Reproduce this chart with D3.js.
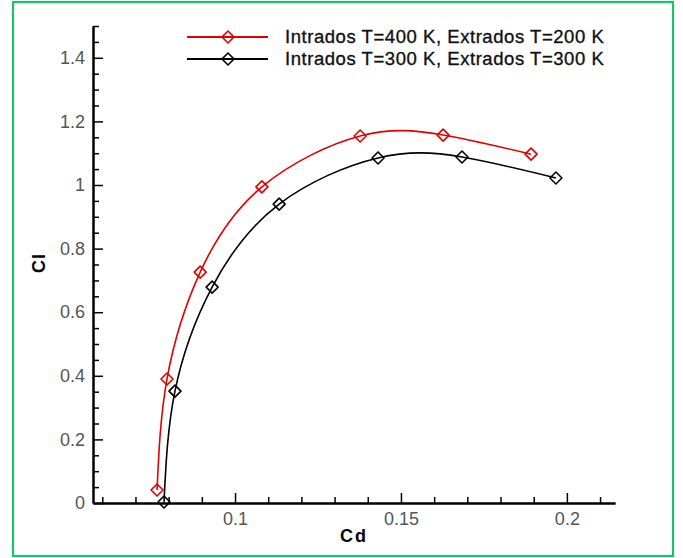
<!DOCTYPE html>
<html>
<head>
<meta charset="utf-8">
<script src="https://cdn.jsdelivr.net/npm/d3@7"></script>
<style>
  html, body { margin: 0; padding: 0; background: #fff; }
  svg { display: block; }
</style>
</head>
<body>
<svg id="chart" width="683" height="558"></svg>
<script>
// Polar curves Cl vs Cd for two wall-temperature configurations
const seriesNames = ["Intrados T=400 K, Extrados T=200 K", "Intrados T=300 K, Extrados T=300 K"];
const seriesColors = ["#e00000", "#000000"];

const cdHot = [0.0765, 0.0795, 0.0895, 0.1081, 0.1377, 0.1627, 0.1892];
const clHot = [0.041, 0.390, 0.726, 0.994, 1.154, 1.157, 1.097];

const cdRef = [0.0786, 0.0819, 0.0931, 0.1133, 0.1431, 0.1684, 0.1967];
const clRef = [0.003, 0.352, 0.679, 0.940, 1.085, 1.088, 1.022];

const xTicks = [0.1, 0.15, 0.2];
const yTicks = [0, 0.2, 0.4, 0.6, 0.8, 1, 1.2, 1.4];

const series = [
  { name: seriesNames[0], color: seriesColors[0], pts: cdHot.map((d, i) => [d, clHot[i]]) },
  { name: seriesNames[1], color: seriesColors[1], pts: cdRef.map((d, i) => [d, clRef[i]]) }
];

const FONT = "Liberation Sans, Arial, sans-serif";
const svg = d3.select("#chart");

// frame
svg.append("rect").attr("x", 13).attr("y", 2).attr("width", 660).attr("height", 554)
  .attr("fill", "#fff").attr("stroke", "#16c46c").attr("stroke-width", 2.2);

const x0 = 93, x1 = 615, yBottom = 503, yTop = 26;
const x = d3.scaleLinear().domain([0.0572, 0.2145]).range([x0, x1]);
const y = d3.scaleLinear().domain([0, 1.5]).range([yBottom, yTop]);

const axes = svg.append("g");

// x axis: ticks pointing into the plot
const xMinor = d3.range(0.06, 0.2145, 0.01).filter(v => !xTicks.some(t => Math.abs(t - v) < 1e-6));
axes.append("g").attr("transform", `translate(0,${yBottom})`)
  .call(d3.axisTop(x).tickValues(xMinor).tickSize(6).tickFormat("").tickSizeOuter(0));
axes.append("g").attr("transform", `translate(0,${yBottom})`)
  .call(d3.axisTop(x).tickValues(xTicks).tickSize(10).tickFormat("").tickSizeOuter(0));
axes.append("g").attr("transform", `translate(0,${yBottom})`)
  .call(d3.axisBottom(x).tickValues(xTicks).tickSize(0).tickPadding(9).tickFormat(d3.format("")))
  .call(g => g.select(".domain").remove());

// y axis
const yMinor = d3.range(0.05, 1.501, 0.05).filter(v => !yTicks.some(t => Math.abs(t - v) < 1e-6));
axes.append("g").attr("transform", `translate(${x0},0)`)
  .call(d3.axisRight(y).tickValues(yMinor).tickSize(6).tickFormat("").tickSizeOuter(0));
axes.append("g").attr("transform", `translate(${x0},0)`)
  .call(d3.axisRight(y).tickValues(yTicks).tickSize(10).tickFormat("").tickSizeOuter(0));
axes.append("g").attr("transform", `translate(${x0},0)`)
  .call(d3.axisLeft(y).tickValues(yTicks).tickSize(0).tickPadding(8).tickFormat(d3.format("")))
  .call(g => g.select(".domain").remove());

axes.selectAll(".domain").attr("stroke", "#000").attr("stroke-width", 2);
axes.selectAll(".tick line").attr("stroke", "#000").attr("stroke-width", 1.5);
axes.selectAll(".tick text").attr("font-family", FONT)
  .attr("font-size", 18).attr("fill", "#555");

// axis titles
svg.append("text").attr("x", 354).attr("y", 542).attr("text-anchor", "middle")
  .attr("font-family", FONT).attr("font-weight", "bold").attr("letter-spacing", 2)
  .attr("font-size", 18).text("Cd");
svg.append("text").attr("transform", "translate(45,263) rotate(-90)").attr("text-anchor", "middle")
  .attr("font-family", FONT).attr("font-weight", "bold").attr("letter-spacing", 1)
  .attr("font-size", 18).text("Cl");

// curves
const line = d3.line().x(d => x(d[0])).y(d => y(d[1])).curve(d3.curveNatural);
const diamond = (g, cx, cy, color) => {
  const r = 6;
  g.append("path")
    .attr("d", `M${cx},${cy - r}L${cx + r},${cy}L${cx},${cy + r}L${cx - r},${cy}Z`)
    .attr("fill", "none").attr("stroke", color).attr("stroke-width", 1.6)
    .attr("stroke-linejoin", "round");
};

const plot = svg.append("g");
series.forEach(s => {
  plot.append("path").datum(s.pts).attr("d", line)
    .attr("fill", "none").attr("stroke", s.color).attr("stroke-width", 1.6);
  const mg = plot.append("g");
  s.pts.forEach(p => diamond(mg, x(p[0]), y(p[1]), s.color));
});

// legend
const leg = svg.append("g");
series.forEach((s, i) => {
  const ly = 37 + i * 22;
  leg.append("line").attr("x1", 187).attr("x2", 268).attr("y1", ly).attr("y2", ly)
    .attr("stroke", s.color).attr("stroke-width", 2);
  diamond(leg, 228, ly, s.color);
  leg.append("text").attr("x", 285).attr("y", ly + 6)
    .attr("font-family", FONT).attr("font-size", 18.5).attr("letter-spacing", 0.55)
    .attr("fill", "#111").attr("stroke", "#111").attr("stroke-width", 0.35)
    .text(s.name);
});
</script>
</body>
</html>
